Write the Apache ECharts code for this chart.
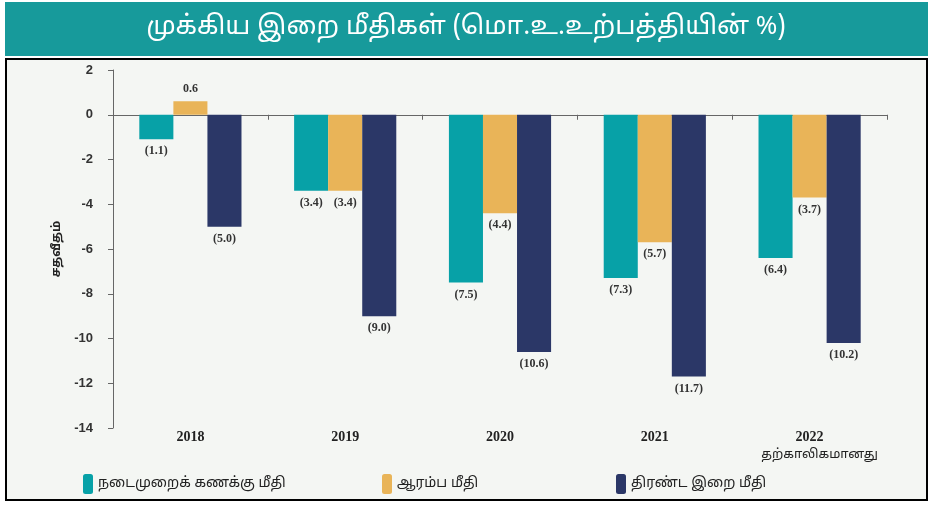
<!DOCTYPE html>
<html>
<head>
<meta charset="utf-8">
<script src="https://cdn.jsdelivr.net/npm/echarts@6/dist/echarts.min.js"></script>
<style>
  html, body { margin: 0; padding: 0; background: #ffffff; }
  #main { width: 932px; height: 505px; }
</style>
</head>
<body>
<div id="main"></div>
<script>
// வருடங்கள்
var years = ['2018', '2019', '2020', '2021', '2022'];
var lastNote = 'தற்காலிகமானது';
// மொ.உ.உற்பத்தியின் %
var currentAccount = [-1.1, -3.4, -7.5, -7.3, -6.4];
var primaryBalance = [0.6, -3.4, -4.4, -5.7, -3.7];
var overallBalance = [-5.0, -9.0, -10.6, -11.7, -10.2];
var seriesNames = ['நடைமுறைக் கணக்கு மீதி', 'ஆரம்ப மீதி', 'திரண்ட இறை மீதி'];
var colors = ['#07a1a7', '#e9b458', '#2b3767'];

var serif = '"Liberation Serif", "DejaVu Serif", serif';
var tamil = '"Noto Sans Tamil", "Lohit Tamil", "Noto Sans", sans-serif';

function fmt(p) {
  var v = p.value;
  return v < 0 ? '(' + Math.abs(v).toFixed(1) + ')' : v.toFixed(1);
}

function makeSeries(name, data, color) {
  return {
    name: name,
    type: 'bar',
    data: data,
    barGap: '0%',
    barCategoryGap: '34%',
    itemStyle: { color: color },
    label: {
      show: true,
      position: 'bottom',
      distance: 6,
      formatter: fmt,
      fontFamily: serif,
      fontWeight: 'bold',
      fontSize: 12,
      color: '#333'
    }
  };
}

var chart = echarts.init(document.getElementById('main'));
var series = [
  makeSeries(seriesNames[0], currentAccount, colors[0]),
  makeSeries(seriesNames[1], primaryBalance, colors[1]),
  makeSeries(seriesNames[2], overallBalance, colors[2])
];
// நேர்மறை மதிப்பு - மேலே
series[1].data = primaryBalance.map(function (v) {
  return { value: v, label: { position: v >= 0 ? 'top' : 'bottom' } };
});

function legendAt(left, name) {
  return {
    left: left,
    top: 469,
    itemWidth: 10,
    itemHeight: 20,
    itemGap: 8,
    data: [name],
    textStyle: { fontFamily: tamil, fontSize: 14, color: '#222' },
    selectedMode: false
  };
}

chart.setOption({
  animation: false,
  backgroundColor: '#ffffff',
  color: colors,
  graphic: [
    { type: 'rect', left: 5, top: 2, shape: { width: 923, height: 54 }, style: { fill: '#179a9b' }, z: -10 },
    { type: 'rect', left: 5, top: 58, shape: { width: 921, height: 441 }, style: { fill: '#f4f6f3', stroke: '#000', lineWidth: 2 }, z: -10 }
  ],
  title: {
    text: 'முக்கிய இறை மீதிகள் (மொ.உ.உற்பத்தியின் %)',
    left: 'center',
    top: 11,
    textStyle: { color: '#fff', fontFamily: tamil, fontSize: 26, fontWeight: 'normal' }
  },
  legend: [
    legendAt(78, seriesNames[0]),
    legendAt(377, seriesNames[1]),
    legendAt(611, seriesNames[2])
  ],
  grid: { left: 113, right: 45, top: 70, bottom: 77 },
  xAxis: [
    {
      type: 'category',
      data: years,
      axisLine: { onZero: true, lineStyle: { color: '#666', width: 1 } },
      axisTick: { show: true, length: 5, inside: false, lineStyle: { color: '#666' } },
      axisLabel: { show: false }
    },
    {
      type: 'category',
      data: years,
      position: 'bottom',
      axisLine: { show: false, onZero: false },
      axisTick: { show: false },
      axisLabel: {
        interval: 0,
        margin: 0,
        fontFamily: serif,
        fontWeight: 'bold',
        fontSize: 14,
        color: '#222',
        lineHeight: 18,
        formatter: function (v, i) {
          return i === years.length - 1 ? v + '\n{n|' + lastNote + '}' : v;
        },
        rich: { n: { fontFamily: tamil, fontSize: 13, color: '#222', fontWeight: 'normal', padding: [0, 0, 0, 20] } }
      }
    }
  ],
  yAxis: {
    type: 'value',
    min: -14,
    max: 2,
    interval: 2,
    name: 'சதவீதம்',
    nameLocation: 'middle',
    nameGap: 48,
    nameRotate: 90,
    nameTextStyle: { fontFamily: tamil, fontSize: 12, fontWeight: 'bold', color: '#222' },
    axisLine: { show: true, lineStyle: { color: '#666' } },
    axisTick: { show: true, length: 5, lineStyle: { color: '#666' } },
    splitLine: { show: false },
    axisLabel: { margin: 20, fontFamily: '"Liberation Sans", Arial, sans-serif', fontWeight: 'bold', fontSize: 13, color: '#333' }
  },
  series: series
});
</script>
</body>
</html>
